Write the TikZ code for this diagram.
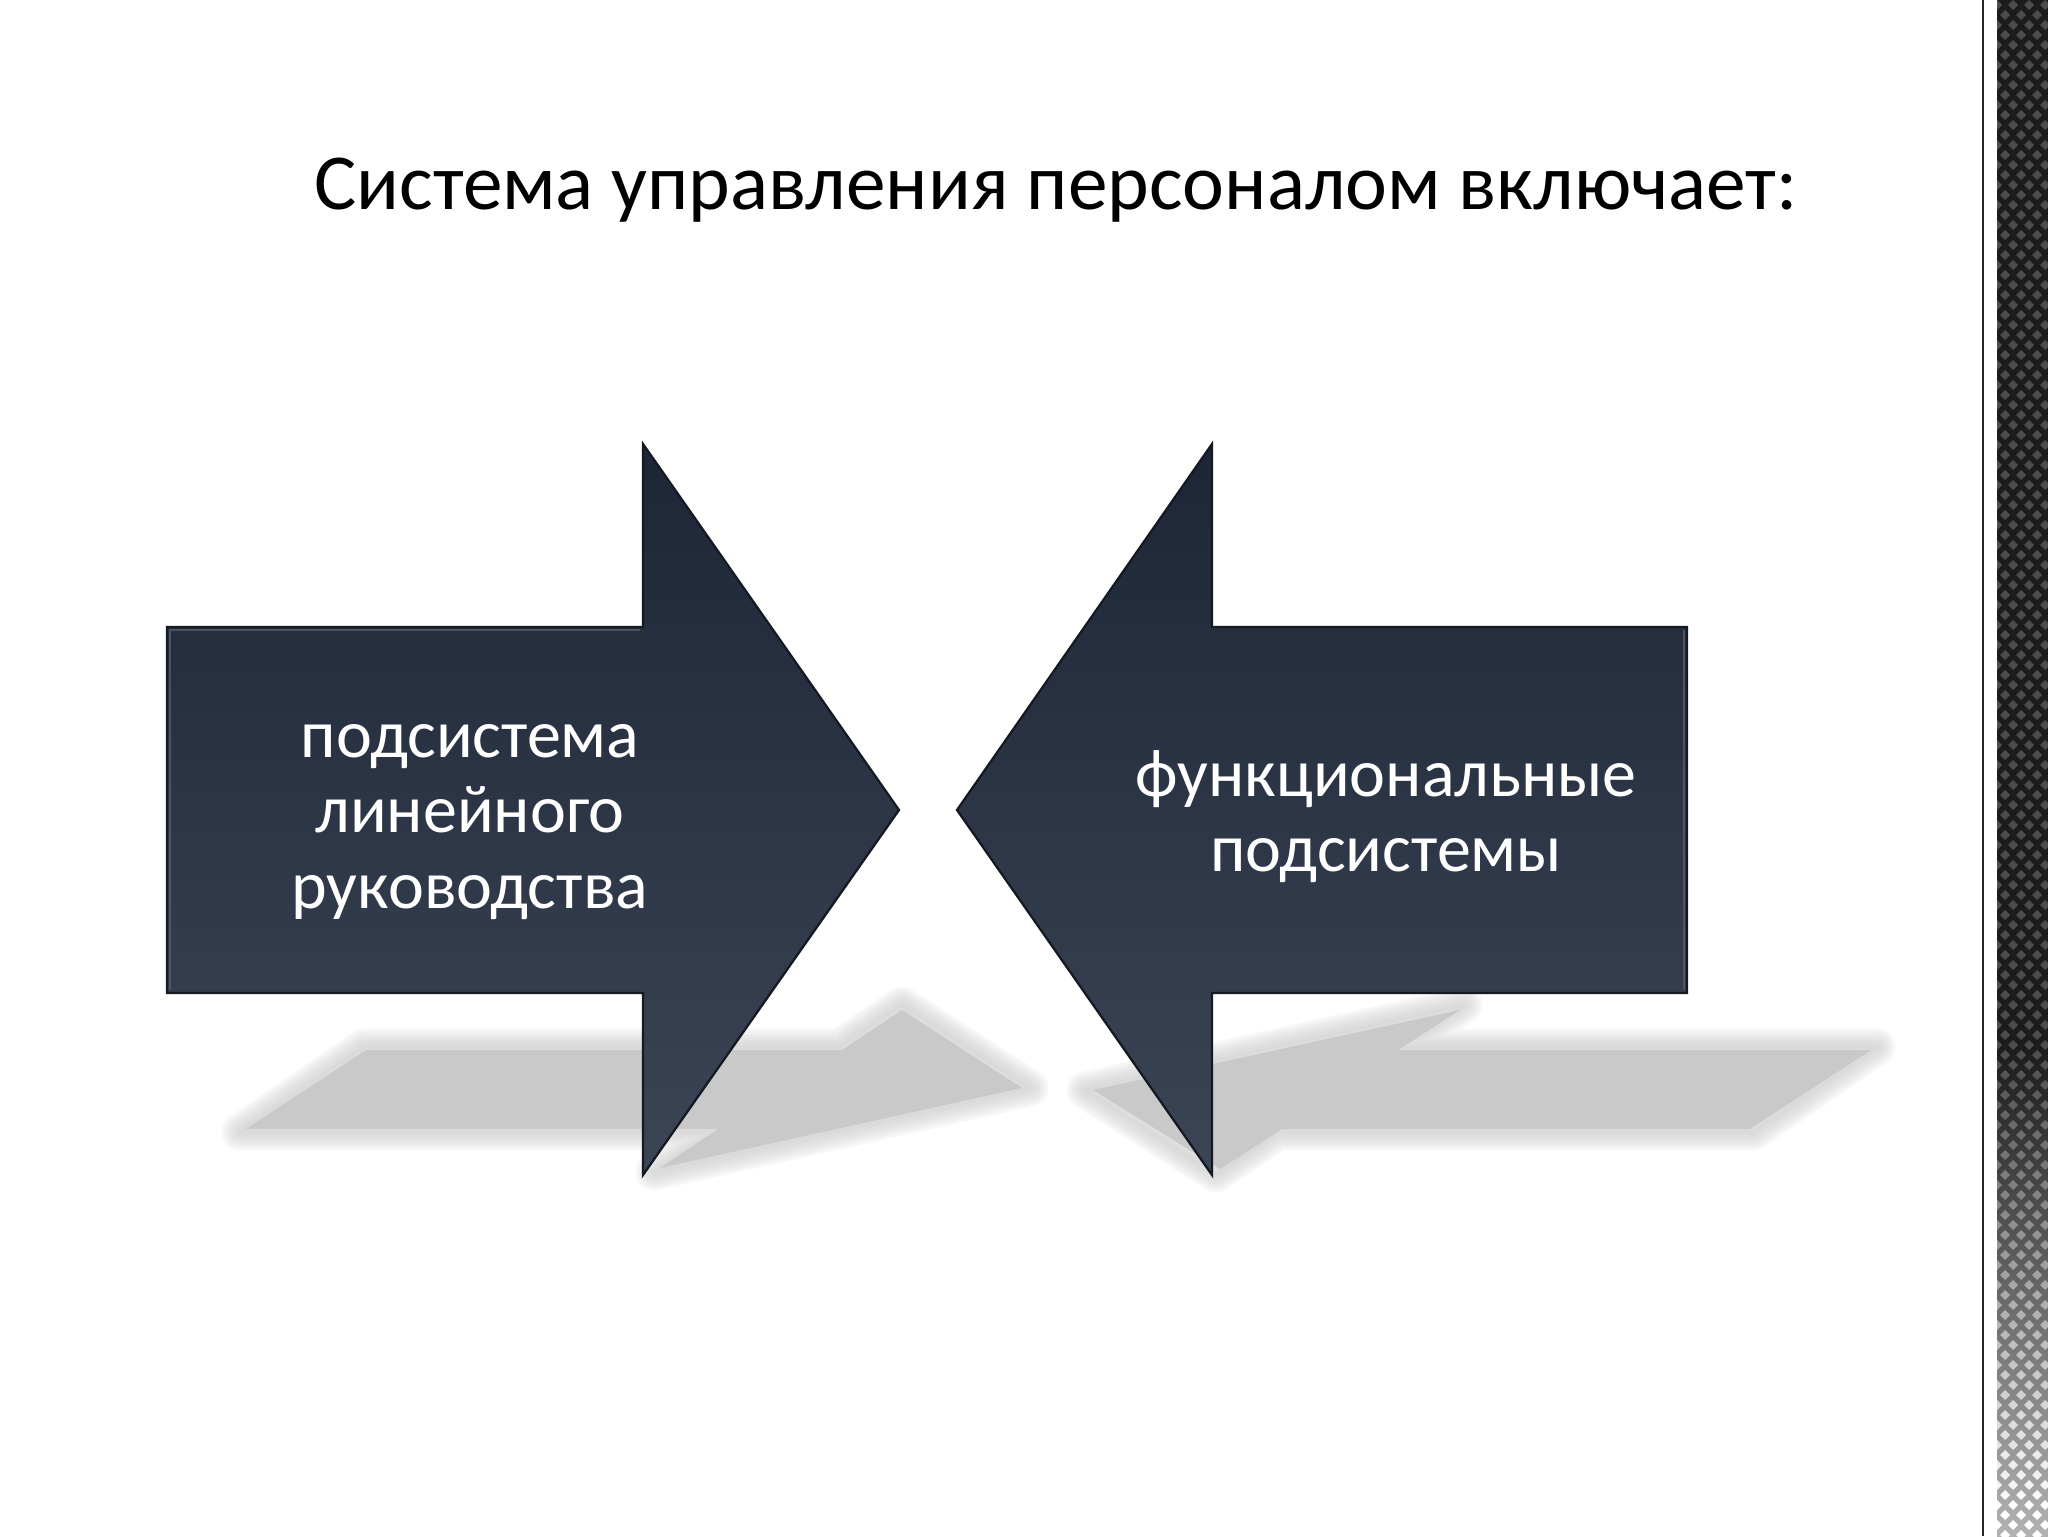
\documentclass[tikz,border=0pt]{standalone}
\usepackage{fontspec}
\setmainfont{Carlito}
\usepackage{tikz}
\usetikzlibrary{positioning}

\definecolor{arrowtop}{HTML}{1D2636}
\definecolor{arrowbottom}{HTML}{3C4556}
\definecolor{arrowedge}{HTML}{151A22}
\definecolor{arrowlight}{HTML}{5A6374}
\definecolor{shadowgray}{HTML}{C9C9C9}
\definecolor{stripdark}{HTML}{1C1C1C}

\begin{document}
\begin{tikzpicture}[%
    x=0.0124cm, y=-0.0124cm,
    arrowbody/.style={draw=arrowedge, line width=0.8pt, line join=miter,
      top color=arrowtop, bottom color=arrowbottom},
    arrowbevel/.style={draw=arrowlight, line width=0.6pt, opacity=0.7},
    shadowblur/.style={draw=shadowgray, line join=round, opacity=0.14},
    shadowcore/.style={fill=shadowgray},
    label/.style={text=white, font=\fontsize{24}{26.5}\selectfont, align=center},
    heading/.style={font=\fontsize{28}{34}\selectfont, anchor=base},
  ]
    \useasboundingbox[fill=white] (0,0) rectangle (2048,1536);

    % shadows on the floor
    \foreach \w in {13,11,9,7,5,3,1}
      \draw[shadowblur, line width=\w pt] (364,1047) -- (840,1047) -- (902,1005)
        -- (1030,1088) -- (654,1172) -- (716,1132) -- (240,1132) -- cycle;
    \fill[shadowcore] (366,1050) -- (842,1050) -- (902,1010)
        -- (1022,1088) -- (660,1168) -- (718,1129) -- (246,1129) -- cycle;
    \foreach \w in {13,11,9,7,5,3,1}
      \draw[shadowblur, line width=\w pt] (1877,1047) -- (1402,1047) -- (1464,1005)
        -- (1085,1090) -- (1216,1174) -- (1278,1132) -- (1753,1132) -- cycle;
    \fill[shadowcore] (1871,1050) -- (1398,1050) -- (1460,1010)
        -- (1093,1090) -- (1220,1169) -- (1282,1129) -- (1750,1129) -- cycle;

    % the two arrows
    \draw[arrowbody] (167,627) -- (643,627) -- (643,444) -- (899,810)
      -- (643,1175) -- (643,993) -- (167,993) -- cycle;
    \draw[arrowbevel] (170,990) -- (170,630) -- (640,630);
    \draw[arrowbody] (1687,627) -- (1212,627) -- (1212,444) -- (957,810)
      -- (1212,1175) -- (1212,993) -- (1687,993) -- cycle;
    \draw[arrowbevel] (1684,630) -- (1684,990);

    \node[heading] (title) at (1056,209) {Система управления персоналом включает:};
    \node[label] (line) at (470,822) {подсистема\\линейного\\руководства};
    \node[label] (func) at (1386,817) {функциональные\\подсистемы};

    % strip at the right edge
    \draw[black!85, line width=1pt] (1983,0) -- (1983,1536);
    \begin{scope}
      \clip (1997,0) rectangle (2048,1536);
      \fill[stripdark] (1997,0) rectangle (2048,1536);
      \shade[top color=stripdark, bottom color=black!30] (1997,1050) rectangle (2048,1536);
      \foreach \r in {0,...,153} {
        \pgfmathsetmacro\yy{\r*10+5}
        \pgfmathtruncatemacro\p{max(0,min(100,(\yy-1050)/4.6))}
        \pgfmathsetmacro\off{mod(\r,2)*8}
        \foreach \c in {0,...,3}
          \fill[white!\p!black!70] ({1997+\off+\c*16},\yy) ++(0,-5) -- ++(5,5)
            -- ++(-5,5) -- ++(-5,-5) -- cycle;
      }
    \end{scope}
  \end{tikzpicture}
\end{document}
